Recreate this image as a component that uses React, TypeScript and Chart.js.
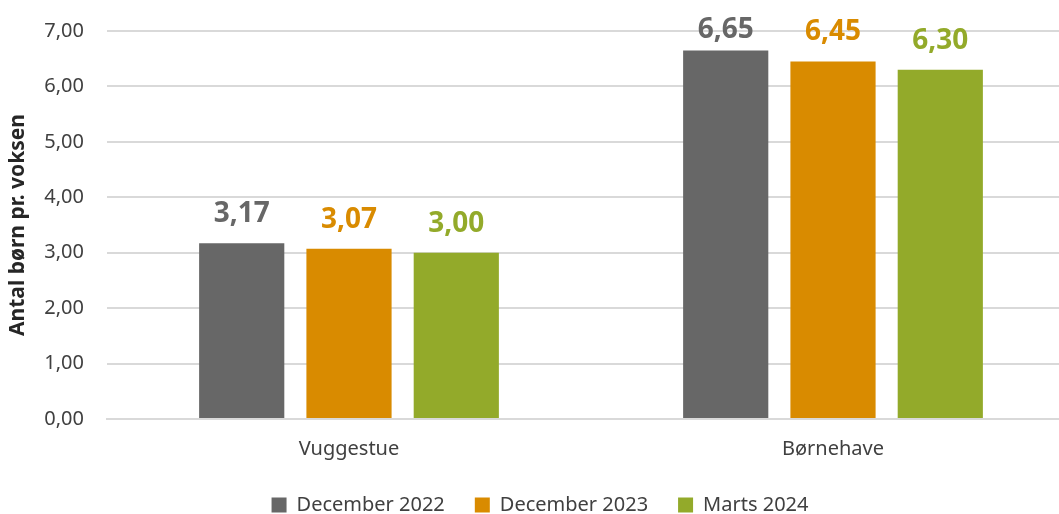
import React, { useEffect, useRef } from "react";
import { Chart, registerables } from "chart.js";

Chart.register(...registerables);

const categories = ["Vuggestue", "Børnehave"];
const seriesNames = ["December 2022", "December 2023", "Marts 2024"];
const dec2022 = [3.17, 6.65];
const dec2023 = [3.07, 6.45];
const marts2024 = [3.0, 6.3];
const seriesColors = ["#676767", "#d98b00", "#93aa2a"];
const yTitle = "Antal børn pr. voksen";

const FONT = "'Noto Sans', 'Open Sans', sans-serif";
const fmt = (v: number) => v.toFixed(2).replace(".", ",");

const dataLabelPlugin = {
  id: "dataLabels",
  afterDatasetsDraw(chart: any) {
    const ctx = chart.ctx;
    ctx.save();
    ctx.font = `bold 28px ${FONT}`;
    ctx.textAlign = "center";
    ctx.textBaseline = "alphabetic";
    chart.data.datasets.forEach((ds: any, i: number) => {
      const meta = chart.getDatasetMeta(i);
      meta.data.forEach((bar: any, j: number) => {
        ctx.fillStyle = seriesColors[i];
        // keep label inside the canvas (as the original does for the tallest bar)
        const y = Math.max(bar.y - 21, 38);
        ctx.fillText(fmt(ds.data[j]), bar.x, y);
      });
    });
    ctx.restore();
  },
};

export default function App() {
  const ref = useRef<HTMLCanvasElement>(null);
  useEffect(() => {
    document.body.style.overflow = "hidden";
    const data = [dec2022, dec2023, marts2024];
    const chart = new Chart(ref.current!, {
      type: "bar",
      data: {
        labels: categories,
        datasets: seriesNames.map((n, i) => ({
          label: n,
          data: data[i],
          backgroundColor: seriesColors[i],
          categoryPercentage: 0.665,
          barPercentage: 0.794,
        })),
      },
      options: {
        animation: false,
        responsive: false,
        maintainAspectRatio: false,
        layout: { padding: { top: 31, bottom: 0, left: 5, right: 0 } },
        plugins: {
          tooltip: { enabled: false },
          legend: {
            position: "bottom",
            maxHeight: 49,
            labels: {
              font: { family: FONT, size: 20 },
              color: "#404040",
              boxWidth: 15,
              boxHeight: 15,
              padding: 30,
            },
          },
        },
        scales: {
          x: {
            grid: { display: false },
            border: { display: true, color: "#d9d9d9", width: 2 },
            afterFit: (s: any) => {
              s.height = 46;
            },
            ticks: { font: { family: FONT, size: 20 }, color: "#404040", padding: 10 },
          },
          y: {
            min: 0,
            max: 7,
            afterFit: (s: any) => {
              s.width = 102;
              s.paddingTop = 0;
              s.paddingBottom = 0;
            },
            ticks: {
              stepSize: 1,
              font: { family: FONT, size: 20 },
              color: "#404040",
              padding: 23,
              callback: (v: any) => fmt(Number(v)),
            },
            grid: { color: "#d9d9d9", lineWidth: 2, drawTicks: false },
            border: { display: false },
            title: {
              display: true,
              text: yTitle,
              font: { family: FONT, size: 21, weight: "bold" },
              color: "#262626",
              padding: 0,
            },
          },
        },
      },
      plugins: [dataLabelPlugin],
    });
    return () => chart.destroy();
  }, []);
  return (
    <div style={{ position: "absolute", left: 0, top: 0, width: 1075, height: 514 }}>
      <canvas ref={ref} width={1075} height={514} />
    </div>
  );
}
